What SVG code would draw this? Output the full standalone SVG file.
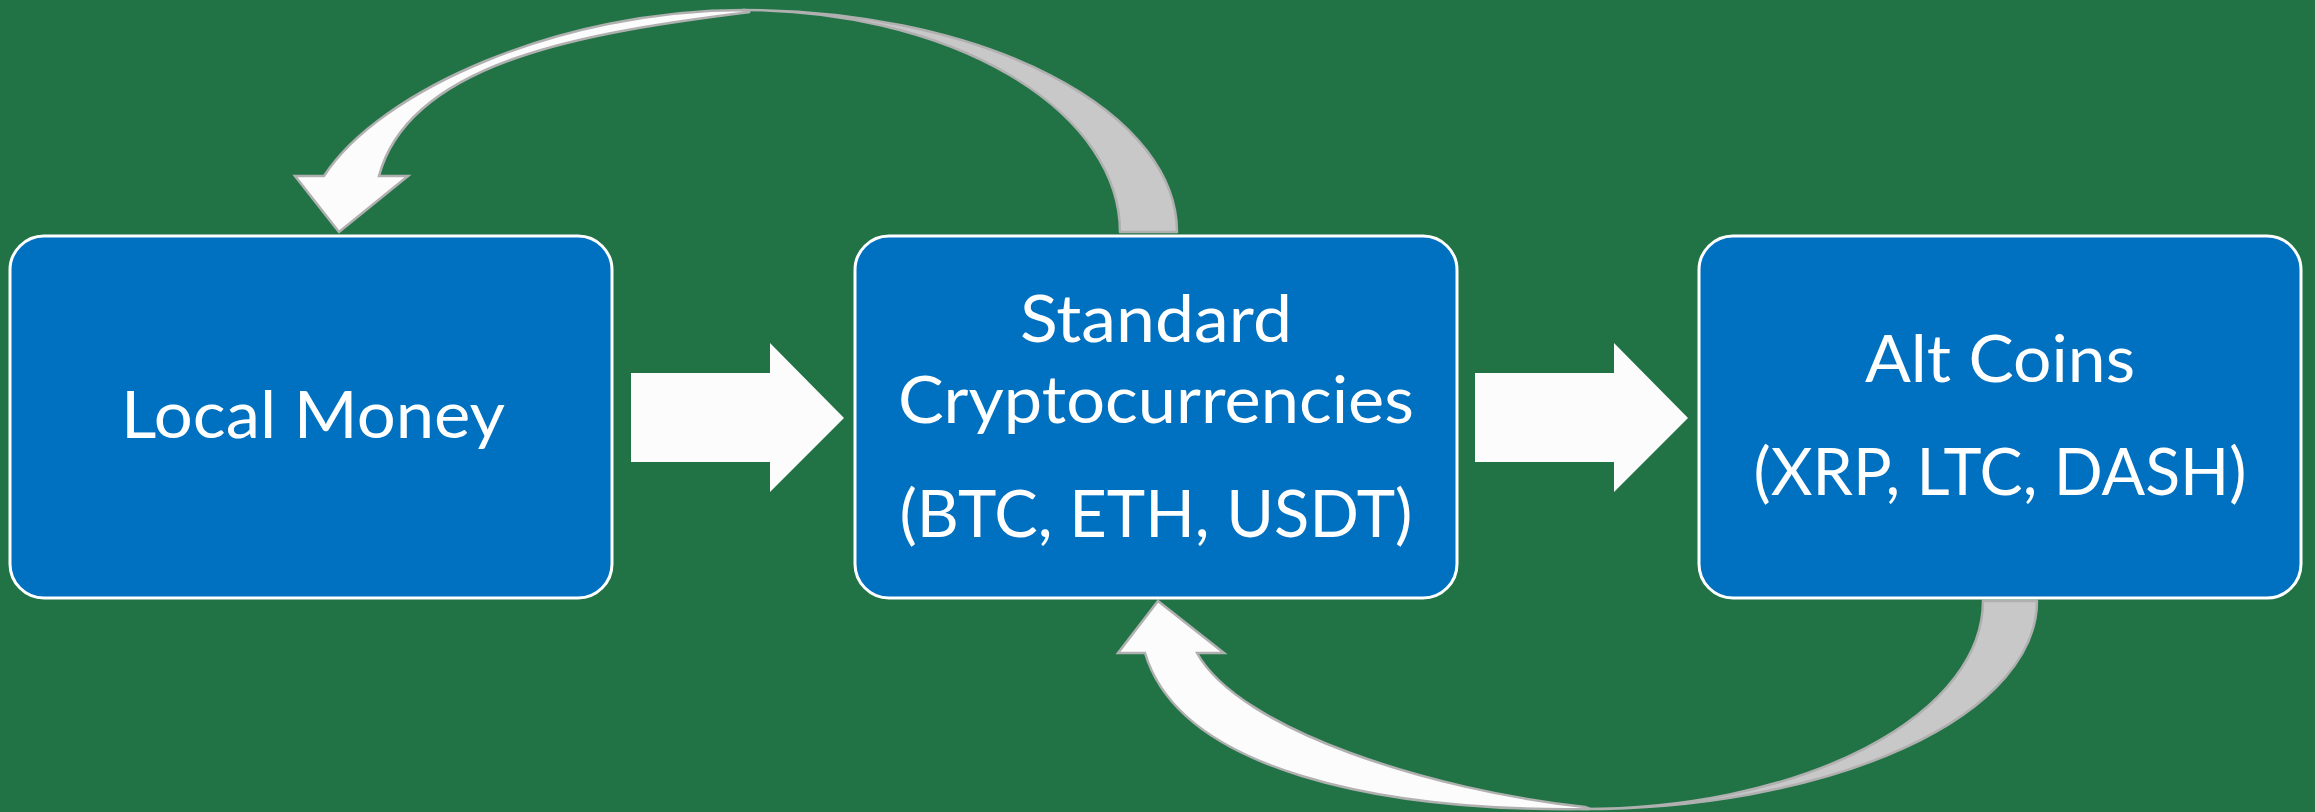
<svg xmlns="http://www.w3.org/2000/svg" width="2315" height="812" viewBox="0 0 2315 812">
<style>
.box{fill:#0070C0;stroke:#FFFFFF;stroke-width:3}
.lbl{font-family:Lato,"Open Sans","Liberation Sans",sans-serif;font-size:66px;fill:#FFFFFF;text-anchor:middle}
.blk{fill:#FCFCFC}
.back{fill:#C8C8C8;stroke:#B0B0B0;stroke-width:2.5;stroke-linejoin:round}
.front{fill:#FCFCFC;stroke:#B0B0B0;stroke-width:2.5;stroke-linejoin:miter}
</style>
<rect x="0" y="0" width="2315" height="812" fill="#217346"/>
<g id="connectors">
  <g id="arrow-local-to-standard"><path class="blk" d="M631,373 H770 V343 L844,418 L770,492 V462 H631 Z"/></g>
  <g id="arrow-standard-to-alt"><path class="blk" d="M1475,373 H1614 V343 L1688,418 L1614,492 V462 H1475 Z"/></g>
  <g id="curve-standard-to-local">
    <path class="back" d="M1177,232 A434,222 0 0,0 743,10 A377,222 0 0,1 1120,232 Z"/>
    <path class="front" d="M750,12 C590,32 410,60 379,176 L408,176 L339,232 L295,176 L324,176 C380,90 560,10 745,10 Z"/>
  </g>
  <g id="curve-alt-to-standard">
    <path class="back" d="M2037,601 A455,208 0 0,1 1582,809 A401,208 0 0,0 1983,601 Z"/>
    <path class="front" d="M1585,807 C1430,790 1240,730 1197,653 L1224,653 L1158,601 L1118,653 L1145,653 C1180,770 1380,812 1590,809 Z"/>
  </g>
</g>
<g id="node-local-money">
  <rect class="box" x="10" y="236" width="602" height="362" rx="34" ry="34"/>
  <text class="lbl" x="313" y="438" textLength="384" lengthAdjust="spacingAndGlyphs">Local Money</text>
</g>
<g id="node-standard">
  <rect class="box" x="855" y="236" width="602" height="362" rx="34" ry="34"/>
  <text class="lbl" x="1156" y="342" textLength="272" lengthAdjust="spacingAndGlyphs">Standard</text>
  <text class="lbl" x="1156" y="423" textLength="516" lengthAdjust="spacingAndGlyphs">Cryptocurrencies</text>
  <text class="lbl" x="1156" y="537" textLength="513" lengthAdjust="spacingAndGlyphs">(BTC, ETH, USDT)</text>
</g>
<g id="node-alt-coins">
  <rect class="box" x="1699" y="236" width="602" height="362" rx="34" ry="34"/>
  <text class="lbl" x="2000" y="382" textLength="270" lengthAdjust="spacingAndGlyphs">Alt Coins</text>
  <text class="lbl" x="2000" y="495" textLength="493" lengthAdjust="spacingAndGlyphs">(XRP, LTC, DASH)</text>
</g>
</svg>
